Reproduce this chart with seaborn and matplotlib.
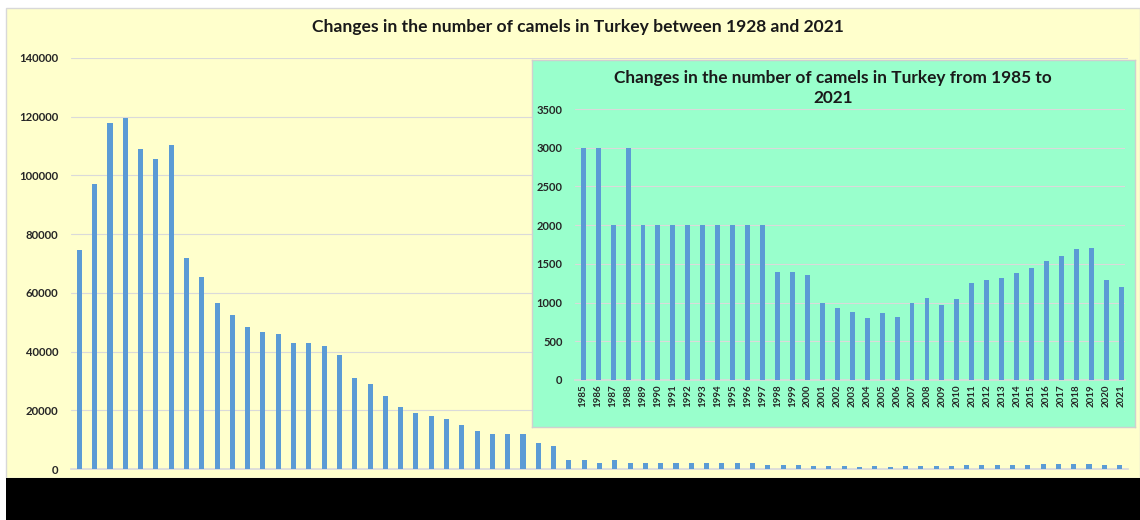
import matplotlib
matplotlib.use("Agg")
import matplotlib.pyplot as plt
import seaborn as sns
import pandas as pd
from matplotlib.patches import Rectangle

# ---- data ----
early_values = [74500, 97000, 118000, 119500, 109000, 105500, 110500, 72000,
                65500, 56500, 52500, 48500, 46500, 46000, 43000, 43000,
                42000, 39000, 31000, 29000, 25000, 21000, 19000, 18000,
                17000, 15000, 13000, 12000, 12000, 12000, 9000, 8000]
inset_years = [str(y) for y in range(1985, 2022)]
inset_values = [3000, 3000, 2000, 3000, 2000, 2000, 2000, 2000, 2000, 2000,
                2000, 2000, 2000, 1400, 1400, 1350, 1000, 930, 875, 800,
                860, 810, 1000, 1055, 970, 1040, 1257, 1292, 1318, 1378,
                1442, 1541, 1602, 1696, 1709, 1292, 1201]
main_values = early_values + inset_values
main_title = "Changes in the number of camels in Turkey between 1928 and 2021"
inset_title = "Changes in the number of camels in Turkey from 1985 to\n2021"
main_yticks = [0, 20000, 40000, 60000, 80000, 100000, 120000, 140000]
inset_yticks = [0, 500, 1000, 1500, 2000, 2500, 3000, 3500]

YELLOW = "#FFFFCC"
GREEN = "#99FFCC"
BAR = "#5B9BD5"
GRID = "#DADADA"

sns.set_theme(style="white")
plt.rcParams["font.family"] = ["Lato", "DejaVu Sans"]

W, H = 1140, 520
fig = plt.figure(figsize=(W / 100, H / 100), dpi=100, facecolor="white")

def fx(px):
    return px / W

def fy(py):
    return 1 - py / H

# yellow background and black band
fig.patches.append(Rectangle((fx(6), fy(478)), fx(1140 - 6), (478 - 8) / H,
                             transform=fig.transFigure, facecolor=YELLOW,
                             edgecolor="#D8D8D8", linewidth=1.0, zorder=0))
fig.patches.append(Rectangle((fx(6), 0), 1 - fx(6), 42 / H,
                             transform=fig.transFigure, facecolor="black",
                             edgecolor="none", zorder=0))

# ---- main axes ----
ax = fig.add_axes([fx(71), fy(469), fx(1128 - 71), (469 - 58) / H], zorder=1)
ax.set_facecolor("none")
df_main = pd.DataFrame({"idx": list(range(len(main_values))), "camels": main_values})
sns.barplot(data=df_main, x="idx", y="camels", color=BAR, width=0.33,
            saturation=1, linewidth=0, edgecolor=BAR, ax=ax, zorder=3)
ax.set_ylim(0, 140000)
ax.set_xlim(-0.55, len(main_values) - 1 + 0.55)
ax.set_yticks(main_yticks)
ax.set_yticklabels([str(v) for v in main_yticks], fontsize=8.2, fontweight="bold",
                   color="#262626")
ax.set_xticks([])
ax.set_xlabel("")
ax.set_ylabel("")
ax.grid(axis="y", color=GRID, linewidth=0.8, zorder=0)
ax.set_axisbelow(True)
for s in ["top", "right", "left"]:
    ax.spines[s].set_visible(False)
ax.spines["bottom"].set_color(GRID)
ax.tick_params(axis="y", length=0, pad=9)

fig.text(fx(578), fy(27), main_title, ha="center", va="center", fontsize=12.6,
         fontweight="bold", color="#1a1a1a")

# ---- inset background ----
bg = fig.add_axes([fx(532), fy(427), fx(1135 - 532), (427 - 60) / H], zorder=2)
bg.set_facecolor(GREEN)
bg.set_xticks([])
bg.set_yticks([])
for s in bg.spines.values():
    s.set_color("#D0D0D0")
    s.set_linewidth(1.0)

# ---- inset axes ----
ax2 = fig.add_axes([fx(575), fy(380), fx(1125 - 575), (380 - 109) / H], zorder=3)
ax2.set_facecolor("none")
df_in = pd.DataFrame({"year": inset_years, "camels": inset_values})
sns.barplot(data=df_in, x="year", y="camels", color=BAR, width=0.33,
            saturation=1, linewidth=0, edgecolor=BAR, ax=ax2, zorder=3)
ax2.set_ylim(0, 3500)
ax2.set_xlim(-0.55, len(inset_years) - 1 + 0.25)
ax2.set_yticks(inset_yticks)
ax2.set_yticklabels([str(v) for v in inset_yticks], fontsize=8, fontweight="bold",
                    color="#262626")
ax2.set_xticks(range(len(inset_years)))
ax2.set_xticklabels(inset_years, rotation=90, fontsize=7, fontweight="bold",
                    color="#262626")
ax2.set_xlabel("")
ax2.set_ylabel("")
ax2.grid(axis="y", color=GRID, linewidth=0.8, zorder=0)
ax2.set_axisbelow(True)
for s in ["top", "right", "left"]:
    ax2.spines[s].set_visible(False)
ax2.spines["bottom"].set_color(GRID)
ax2.tick_params(axis="y", length=0, pad=9)
ax2.tick_params(axis="x", length=0, pad=3)

fig.text(fx(833), fy(88), inset_title, ha="center", va="center", fontsize=12.4,
         fontweight="bold", color="#1a1a1a", linespacing=1.25)

fig.savefig("out.png", dpi=100, facecolor="white")
